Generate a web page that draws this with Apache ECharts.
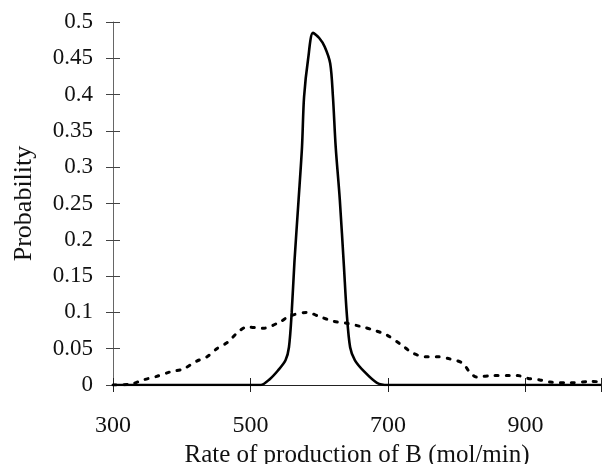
<!DOCTYPE html>
<html>
<head>
<meta charset="utf-8">
<script src="https://cdn.jsdelivr.net/npm/echarts@6/dist/echarts.min.js"></script>
<style>
html,body{margin:0;padding:0;background:#fff;}
#c{width:602px;height:464px;}
</style>
</head>
<body>
<div id="c"></div>
<script>
// Solid curve (narrow distribution)
var rateSolid = [300, 400, 500, 515, 528, 540, 551, 556, 560, 564, 570, 575, 578, 584, 591, 600, 608, 616, 620, 624, 630, 636, 640, 645, 652, 666, 684, 700, 800, 900, 1010];
var probSolid = [0, 0, 0, 0, 0.008, 0.02, 0.034, 0.052, 0.1, 0.17, 0.255, 0.328, 0.397, 0.45, 0.485, 0.478, 0.466, 0.443, 0.397, 0.328, 0.255, 0.163, 0.1, 0.052, 0.034, 0.018, 0.003, 0, 0, 0, 0];
// Dashed curve (wide distribution)
var rateDashed = [300, 325, 344, 364, 383, 402, 422, 437, 451, 467, 482, 495, 518, 543, 557, 582, 601, 620, 640, 663, 678, 698, 720, 736, 754, 771, 790, 809, 818, 829, 853, 877, 889, 904, 921, 936, 965, 997, 1010];
var probDashed = [0, 0.001, 0.007, 0.012, 0.018, 0.022, 0.033, 0.039, 0.05, 0.059, 0.073, 0.08, 0.078, 0.087, 0.095, 0.1, 0.094, 0.088, 0.085, 0.08, 0.076, 0.069, 0.055, 0.044, 0.039, 0.039, 0.036, 0.03, 0.019, 0.011, 0.013, 0.013, 0.013, 0.009, 0.007, 0.004, 0.003, 0.005, 0.004];
var xTicks = [300, 500, 700, 900];
var yTicks = ['0', '0.05', '0.1', '0.15', '0.2', '0.25', '0.3', '0.35', '0.4', '0.45', '0.5'];

function pairs(xs, ys){ return xs.map(function(x,i){ return [x, ys[i]]; }); }

var font = '"Liberation Serif", "Times New Roman", serif';
var chart = echarts.init(document.getElementById('c'), null, {renderer:'canvas'});
chart.setOption({
  animation: false,
  backgroundColor: '#fff',
  grid: {left: 113, right: 1, top: 22, bottom: 79, containLabel: false, outerBoundsMode: 'none'},
  xAxis: [{
    type: 'value', min: 300, max: 1010, interval: 200,
    name: 'Rate of production of B (mol/min)', nameLocation: 'middle', nameGap: 45,
    nameTextStyle: {fontFamily: font, fontSize: 25, color: '#111'},
    axisLine: {show: true, onZero: false, lineStyle: {color: '#222', width: 1.2}},
    axisTick: {show: true, length: 7, lineStyle: {color: '#222', width: 1}},
    axisLabel: {margin: 29, fontFamily: font, fontSize: 24, color: '#111',
      formatter: function(v){ return xTicks.indexOf(v) >= 0 ? String(v) : ''; }},
    splitLine: {show: false}
  }, {
    type: 'value', min: 300, max: 1010, interval: 200, position: 'bottom',
    axisLine: {show: false}, axisLabel: {show: false}, splitLine: {show: false},
    axisTick: {show: true, inside: true, length: 7, lineStyle: {color: '#222', width: 1}}
  }],
  yAxis: [{
    type: 'value', min: 0, max: 0.5, interval: 0.05,
    name: 'Probability', nameLocation: 'middle', nameGap: 76,
    nameTextStyle: {fontFamily: font, fontSize: 26, color: '#111'},
    axisLine: {show: true, lineStyle: {color: '#666', width: 1}},
    axisTick: {show: true, length: 7, lineStyle: {color: '#444', width: 1}},
    axisLabel: {margin: 20, fontFamily: font, fontSize: 23, color: '#111',
      formatter: function(v){ var s = String(Math.round(v*100)/100); return yTicks.indexOf(s) >= 0 ? s : ''; }},
    splitLine: {show: false}
  }, {
    type: 'value', min: 0, max: 0.5, interval: 0.05, position: 'left',
    axisLine: {show: false}, axisLabel: {show: false}, splitLine: {show: false},
    axisTick: {show: true, inside: true, length: 7, lineStyle: {color: '#444', width: 1}}
  }],
  series: [{
    type: 'line', name: 'wide', data: pairs(rateDashed, probDashed),
    showSymbol: false, smooth: 0.3,
    lineStyle: {color: '#000', width: 3, type: [3, 8], cap: 'round'}
  }, {
    type: 'line', name: 'narrow', data: pairs(rateSolid, probSolid),
    showSymbol: false, smooth: 0.3,
    lineStyle: {color: '#000', width: 2.6}
  }]
});
</script>
</body>
</html>
